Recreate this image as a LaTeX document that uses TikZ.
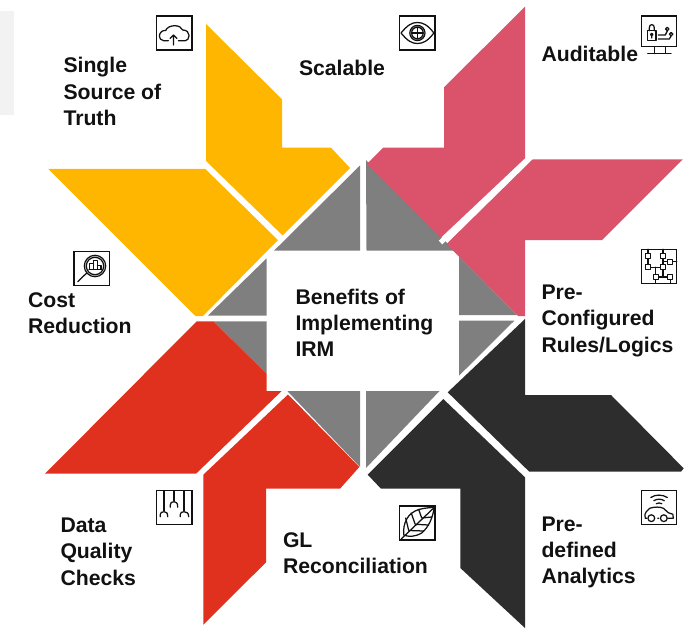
\documentclass[tikz,border=0pt]{standalone}
\usepackage{fontspec}
\setmainfont{Liberation Sans}
\definecolor{cyellow}{HTML}{FFB600}
\definecolor{cpink}{HTML}{DB536A}
\definecolor{cred}{HTML}{E0301E}
\definecolor{cblack}{HTML}{2D2D2D}
\definecolor{cgrey}{HTML}{7F7F7F}
\definecolor{cpanel}{HTML}{F2F2F2}
\definecolor{cink}{HTML}{111111}
\tikzset{
  lab/.style={inner sep=0pt,outer sep=0pt,anchor=north west,align=left,text=cink,
    font=\fontsize{21.2pt}{26.35pt}\selectfont\bfseries},
  petal/.style={draw=none},
  wedge/.style={fill=cgrey,draw=none},
  gapbar/.style={draw=white,line width=5pt},
  ico/.style={draw=cink,line width=1.25pt,line join=round,line cap=round},
  icobox/.style={draw=cink,line width=1.4pt}
}
\begin{document}
\begin{tikzpicture}[x=1pt,y=-1pt]
\useasboundingbox (0,0) rectangle (692,628);
\fill[cpanel] (0,11) rectangle (14,115);
% grey wedges
\path[wedge] (274,250.7) -- (360,165.5) -- (360,250.7) -- cycle;
\path[wedge] (366,160) -- (366.5,250.7) -- (459,250.7) -- (448,244) -- (441,237) -- cycle;
\path[wedge] (459,256.5) -- (517,315) -- (459,315) -- cycle;
\path[wedge] (459,320.7) -- (514.3,320.7) -- (459,375.7) -- cycle;
\path[wedge] (366,391) -- (439.5,391) -- (366,468) -- cycle;
\path[wedge] (287.3,391) -- (360,391) -- (360,467) -- cycle;
\path[wedge] (213.3,321.3) -- (266.7,321.3) -- (266.7,374) -- cycle;
\path[wedge] (208,315.5) -- (266.7,258.3) -- (266.7,315.5) -- cycle;
% petals
\fill[petal,cyellow] (206,24) -- (282,99.3) -- (282,147.7) -- (331,147.7) -- (350,168) -- (282.7,235.5) -- (206,161) -- cycle;
\fill[petal,cyellow] (48.3,169) -- (206,169) -- (278,240) -- (203,316) -- (195.5,316) -- cycle;
\fill[petal,cpink] (525,6.7) -- (444,87.3) -- (444,147.7) -- (383.3,147.7) -- (366.7,164) -- (441,237.5) -- (525,158.3) -- cycle;
\fill[petal,cpink] (532.7,159.3) -- (682.7,159.3) -- (602,240) -- (525,240) -- (525,316) -- (518,316) -- (446.5,244) -- cycle;
\fill[petal,cblack] (525,319) -- (525,395) -- (611,395) -- (683.7,468.3) -- (681,471.7) -- (529.3,471.7) -- (447.7,392.3) -- cycle;
\fill[petal,cblack] (443.3,399) -- (525,477.3) -- (525,628) -- (460.3,568) -- (460.3,488.7) -- (381,488.7) -- (367.7,474.7) -- cycle;
\fill[petal,cred] (45,473.7) -- (196.7,321.3) -- (213.3,321.3) -- (266.7,374) -- (266.7,391) -- (281.7,391) -- (196,473.7) -- cycle;
\fill[petal,cred] (288,394.5) -- (359.3,467) -- (340,488.7) -- (266,488.7) -- (266,562.3) -- (203.3,624.7) -- (203.3,474.7) -- cycle;
% white gaps that cut a little into the grey
\draw[gapbar] (440.5,242.5) -- (528,159.5);
\draw[gapbar] (283,241) -- (205,165);
% labels
\node[lab] (centre) at (295.5,288.8) {Benefits of\\Implementing\\IRM};
\node[lab] (single) at (63.5,57.5) {Single\\Source of\\Truth};
\node[lab] (scalable) at (299,60) {Scalable};
\node[lab] (auditable) at (541.5,46.5) {Auditable};
\node[lab] (preconf) at (541.5,284.8) {Pre-\\Configured\\Rules/Logics};
\node[lab] (predef) at (541.5,516.5) {Pre-\\defined\\Analytics};
\node[lab] (gl) at (283,532.5) {GL\\Reconciliation};
\node[lab] (dq) at (60.5,518) {Data\\Quality\\Checks};
\node[lab] (cost) at (28,292.5) {Cost\\Reduction};
% cloud icon
\begin{scope}[shift={(156.7,16)}]
\draw[icobox] (0,0) rectangle (35.4,34);
\draw[ico] (11.7,24.7) -- (7,24.7) .. controls (4,24.7) and (2.7,22) .. (2.7,20) .. controls (2.7,16.5) and (6,14) .. (9,14.5) .. controls (10,11.5) and (14,9.7) .. (18,9.7) .. controls (22,9.7) and (25,11.5) .. (26,14) .. controls (30,14) and (32.4,16.5) .. (32.4,19.5) .. controls (32.4,22.5) and (30.5,24.7) .. (28.7,24.7) -- (21.7,24.7);
\draw[ico] (16.8,29) -- (16.8,19) (13.3,22.5) -- (16.8,19) -- (20.3,22.5);
\end{scope}
% eye icon
\begin{scope}[shift={(399.7,16)}]
\draw[icobox] (0,0) rectangle (35.4,34);
\draw[ico] (1.3,17) .. controls (8,9) and (12,6.5) .. (17.7,6.5) .. controls (23.5,6.5) and (28,9) .. (34.2,17) .. controls (28,25) and (23.5,27.5) .. (17.7,27.5) .. controls (12,27.5) and (8,25) .. (1.3,17) -- cycle;
\draw[ico] (17.7,17) circle[radius=7.6pt] (17.7,17) circle[radius=5.8pt];
\draw[ico] (17.7,11.2) -- (17.7,22.8) (11.9,17) -- (23.5,17);
\end{scope}
% monitor icon
\begin{scope}[shift={(641.3,16)}]
\draw[icobox] (0,0) rectangle (35.4,30.7);
\draw[ico] (6.3,14.7) rectangle (14.7,24.3);
\draw[ico] (8,14.7) -- (8,12) .. controls (8,9.5) and (9,8.7) .. (10.5,8.7) .. controls (12,8.7) and (13,9.5) .. (13,12) -- (13,14.7);
\draw[ico] (10.5,18.5) circle[radius=1.2pt] (10.5,19.7) -- (10.5,22);
\draw[ico] (17,19) -- (24,19) -- (26,15);
\draw[ico] (26,13) circle[radius=1.7pt];
\draw[ico] (17,23) -- (28,23) -- (29.7,20.2);
\draw[ico] (29.8,18.2) circle[radius=1.7pt];
\draw[ico] (13.3,30.7) -- (13.3,37) (24,30.7) -- (24,37) (6.3,37.5) -- (29.7,37.5);
\end{scope}
% circuit icon
\begin{scope}[shift={(641.3,249.3)}]
\draw[icobox] (0,0) rectangle (35.4,34);
\draw[ico] (6.7,0) -- (6.7,15.5) (21.7,0) -- (21.7,27.7) (21.7,12.3) -- (35.4,12.3) (6.7,18) -- (21.7,18) (14.3,18) -- (14.3,34) (14.3,27.7) -- (29,27.7) -- (29,34);
\foreach \p in {(6.7,6.3),(21.7,6.3),(29,12.3),(6.7,18),(21.7,18),(14.3,27.7),(29,27.7)}
  \draw[ico,fill=white,line width=0.9pt] \p ++(-2.4,-2.4) rectangle ++(4.8,4.8);
\end{scope}
% car icon
\begin{scope}[shift={(641.3,490.7)}]
\draw[icobox] (0,0) rectangle (35.4,34);
\draw[ico] (9.5,6.8) .. controls (14,3.6) and (21,3.6) .. (26,6.8);
\draw[ico] (12.5,10) .. controls (15.5,8) and (20,8) .. (23,10);
\draw[ico] (15,13) .. controls (16.5,12) and (19,12) .. (20.5,13);
\draw[ico] (5.5,27.5) -- (4,27.5) .. controls (3.5,24) and (3.5,22.5) .. (5,21) -- (8.5,17.5) .. controls (14,16) and (18,16) .. (22,17.5) -- (27,22) -- (31.5,23.5) -- (32,27.5) -- (27,27.5) (16.5,27.5) -- (17.5,27.5);
\draw[ico] (10,27.5) circle[radius=3.4pt] (22.5,27.5) circle[radius=3.4pt];
\end{scope}
% leaf icon
\begin{scope}[shift={(399.7,506)}]
\draw[icobox] (0,0) rectangle (35.4,34);
\draw[ico] (1.5,33) -- (34.5,1.5);
\draw[ico] (4,29) .. controls (3,17) and (8,7) .. (19,3.5) .. controls (25,2) and (30,1.5) .. (34.5,1.5) .. controls (33,12) and (29,21) .. (22,27) .. controls (15,31) and (9,31) .. (4,29);
\draw[ico] (9,24.5) -- (6,12) (15.5,18.3) -- (11.5,7) (22,12) -- (19,3.5) (9,24.5) -- (24,25) (15.5,18.3) -- (29,19) (22,12) -- (32,11);
\end{scope}
% tree icon
\begin{scope}[shift={(156.7,490.7)}]
\draw[icobox] (0,0) rectangle (35.4,34);
\draw[ico] (7.3,0) -- (7.3,20) (17.3,0) -- (17.3,10) (27.3,0) -- (27.3,20);
\draw[ico] (3.5,26) -- (3.5,24) .. controls (3.5,22) and (5,21) .. (7.3,21) .. controls (9.5,21) and (11,22) .. (11,26);
\draw[ico] (13.5,16.5) -- (13.5,14.5) .. controls (13.5,12) and (15,11) .. (17.3,11) .. controls (19.5,11) and (21,12) .. (21,16.5);
\draw[ico] (23.5,26) -- (23.5,24) .. controls (23.5,22) and (25,21) .. (27.3,21) .. controls (29.5,21) and (32,22) .. (32,26);
\end{scope}
% magnifier icon
\begin{scope}[shift={(74,251.7)}]
\draw[icobox] (0,0) rectangle (35.4,34);
\draw[ico] (21,14.3) circle[radius=10.7pt] (21,14.3) circle[radius=8.7pt];
\draw[ico] (12.5,21.5) -- (3.7,30);
\draw[ico] (15,17.5) -- (27.5,17.5) (15.5,17.5) -- (15.5,12) -- (19.5,12) -- (19.5,17.5) (19.5,9) -- (23.5,9) -- (23.5,17.5) (19.5,9) -- (19.5,12) (23.5,13.5) -- (27,13.5) -- (27,17.5);
\end{scope}
\end{tikzpicture}
\end{document}
